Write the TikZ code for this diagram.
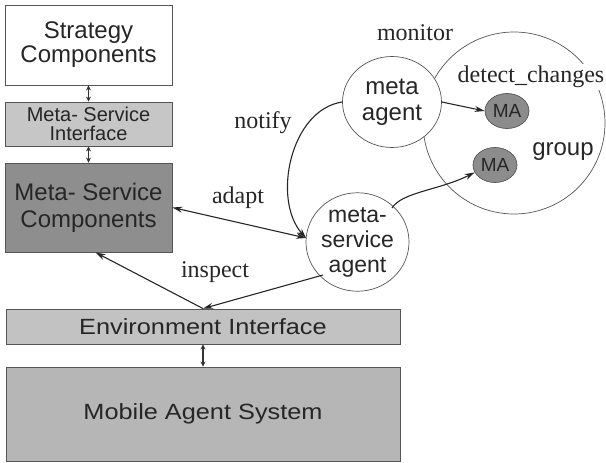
\documentclass[tikz,border=0pt]{standalone}
\usepackage{fontspec}
\setmainfont{Liberation Serif}
\setsansfont{Liberation Sans}
\usetikzlibrary{arrows.meta,shapes.geometric}
\newcommand{\fsz}[2]{\fontsize{#1}{#2}\selectfont}
\newcommand{\wid}[2]{\scalebox{#1}[1]{#2}}
\definecolor{bordergray}{HTML}{555555}
\definecolor{lightfill}{HTML}{C6C6C6}
\definecolor{darkfill}{HTML}{8E8E8E}
\definecolor{envfill}{HTML}{C2C2C2}
\definecolor{masfill}{HTML}{B6B6B6}
\definecolor{mafill}{HTML}{8C8C8C}
\begin{document}
\begin{tikzpicture}[x=1pt,y=-1pt,
  layerbox/.style={draw=bordergray,line width=0.9pt,inner sep=0pt,text=black!85,align=center},
  agentcircle/.style={ellipse,draw=bordergray,line width=0.7pt,fill=white,inner sep=0pt,font=\sffamily\fsz{24}{26},text=black!85,align=center},
  macircle/.style={ellipse,draw=bordergray,line width=0.7pt,fill=mafill,inner sep=0pt,minimum width=44pt,minimum height=35pt,font=\sffamily\fsz{19}{20},text=black!85},
  elabel/.style={font=\fsz{24}{26},text=black!85,inner sep=1pt},
  conn/.style={line width=1.1pt,draw=black!85,-{Stealth[length=10pt,width=6pt]}},
  dconn/.style={line width=1.1pt,draw=black!85,{Stealth[length=10pt,width=6pt]}-{Stealth[length=10pt,width=6pt]}},
  small/.style={line width=1.3pt,draw=black!80,{Stealth[length=5pt,width=5pt]}-{Stealth[length=5pt,width=5pt]}}
]
\useasboundingbox (0,0) rectangle (606,463);

% layer boxes
\node[layerbox,fill=white,minimum width=167pt,minimum height=80pt,font=\sffamily\fsz{24}{24}] (strat) at (88.5,45) {Strategy\\Components};
\node[layerbox,fill=lightfill,minimum width=167pt,minimum height=44pt,font=\sffamily\fsz{20}{19}] (msi) at (88.5,124) {Meta- Service\\Interface};
\node[layerbox,fill=darkfill,minimum width=167pt,minimum height=89pt,font=\sffamily\fsz{24}{27}] (msc) at (88.5,207.5) {Meta- Service\\Components};
\node[layerbox,fill=envfill,minimum width=394pt,minimum height=35pt,font=\sffamily\fsz{22}{22}] (env) at (203,326.5) {\wid{1.15}{Environment Interface}};
\node[layerbox,fill=masfill,minimum width=394pt,minimum height=94pt,font=\sffamily\fsz{22}{22}] (mas) at (203,414) {\wid{1.15}{Mobile Agent System}};

\draw[small] (strat.south) -- (msi.north);
\draw[small] (msi.south) -- (msc.north);
\draw[small] (env.south) -- (mas.north);

% group circle
\node[circle,draw=bordergray,line width=0.7pt,minimum size=182pt,inner sep=0pt] (group) at (514,123) {};
\node[elabel,fill=white,inner sep=2pt] (dc) at (531,77) {detect\_changes};
\node[font=\sffamily\fsz{24}{26},text=black!85] (grouplbl) at (563,152) {group};

% agents
\node[agentcircle,minimum width=99pt,minimum height=91pt] (meta) at (392,102) {meta\\agent};
\node[agentcircle,font=\sffamily\fsz{23}{25},minimum width=99pt,minimum height=92pt] (msa) at (357.5,242) {meta-\\service\\agent};
\node[macircle] (ma1) at (507,111) {MA};
\node[macircle] (ma2) at (495,165) {MA};

% labels
\node[elabel] (monitor) at (415,33) {monitor};
\node[elabel] (notify) at (263,123) {notify};
\node[elabel] (adapt) at (238,198) {adapt};
\node[elabel] (inspect) at (215,272) {inspect};

% connectors
\coordinate (msaw) at (306,238);
\coordinate (inspstart) at (323,275);
\coordinate (m2start) at (392,208);
\draw[conn] (meta.east) -- (ma1.west);
\draw[conn] (meta.west) .. controls (290,110) and (272,200) .. (msaw);
\draw[dconn] (msc.east) -- (msaw);
\draw[conn] (inspstart) -- (env.north);
\draw[conn] (env.north) -- ([xshift=7pt]msc.south);
\draw[conn] (m2start) .. controls (402,192) and (440,190) .. (ma2.200);
\end{tikzpicture}
\end{document}
